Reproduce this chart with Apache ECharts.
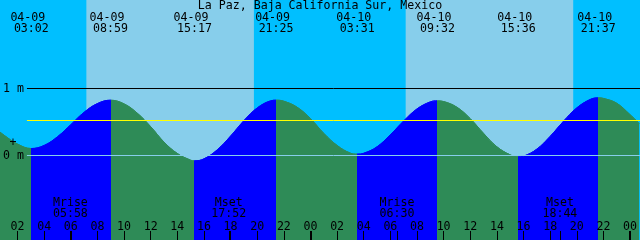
<!DOCTYPE html>
<html><head><meta charset="utf-8">
<script src="https://cdn.jsdelivr.net/npm/echarts@6/dist/echarts.min.js"></script>
<style>html,body{margin:0;padding:0;background:#00BFFF}#c{width:640px;height:240px}</style>
</head><body><div id="c"></div>
<script>
// ---------------- data ----------------
const titleText = 'La Paz, Baja California Sur, Mexico';
// hours since 04-09 00:00, tide height in metres
const tideHours = [0.68, 1, 2, 3.03, 4, 5, 6, 7, 8, 8.98,
  10, 11, 12, 13, 14, 15, 15.28, 16, 17, 18, 19, 20, 21, 21.42,
  22, 23, 24, 25, 26, 27, 27.52, 28, 29, 30, 31, 32, 33, 33.53,
  34, 35, 36, 37, 38, 39, 39.6, 40, 41, 42, 43, 44, 45, 45.62,
  46, 47, 48, 48.68];
const tideHeights = [0.35, 0.30, 0.17, 0.104, 0.15, 0.28, 0.46, 0.645, 0.775, 0.825,
  0.77, 0.63, 0.43, 0.20, 0.03, -0.07, -0.08, -0.05, 0.085, 0.29, 0.52, 0.71, 0.815, 0.825,
  0.81, 0.72, 0.55, 0.33, 0.15, 0.035, 0.02, 0.033, 0.13, 0.31, 0.515, 0.695, 0.80, 0.815,
  0.805, 0.72, 0.55, 0.33, 0.13, 0.01, -0.02, -0.01, 0.095, 0.285, 0.51, 0.71, 0.835, 0.86,
  0.852, 0.78, 0.61, 0.48];
const eventDates = ['04-09','04-09','04-09','04-09','04-10','04-10','04-10','04-10'];
const eventTimes = ['03:02','08:59','15:17','21:25','03:31','09:32','15:36','21:37'];
const eventKinds = ['low','high','low','high','low','high','low','high'];
const sunriseDays = [0, 1];
const sunriseTimes = ['07:10', '07:09'];
const sunsetTimes = ['19:45', '19:44'];
const moonDays = [0, 0, 1, 1];
const moonNames = ['Mrise', 'Mset', 'Mrise', 'Mset'];
const moonTimes = ['05:58', '17:52', '06:30', '18:44'];
const tickHours = [2,4,6,8,10,12,14,16,18,20,22,24,26,28,30,32,34,36,38,40,42,44,46,48];
const midnightHours = [24, 48];
const levelValues = [1, 0.52, 0];
const levelColors = ['#000000', '#FFFF00', '#87CEEB'];
const levelLabelValues = [0, 1];
const X0 = 0.68, X1 = 48.68;
const Y0 = -1.2612, Y1 = 2.3209;

// ---------------- helpers ----------------
const NIGHT = '#00BFFF', DAY = '#87CEEB', RISE = '#0000FF', FALL = '#2E8B57';
const FONT = '11.6px "DejaVu Sans Mono", "Liberation Mono", monospace';
const FAM = '"DejaVu Sans Mono", "Liberation Mono", monospace';
const hm = s => { const p = s.split(':'); return +p[0] + (+p[1]) / 60; };
const dayOf = d => d === '04-10' ? 1 : 0;
const eventHours = eventTimes.map((t, i) => hm(t) + 24 * dayOf(eventDates[i]));
const sunrise = sunriseTimes.map((t, i) => hm(t) + 24 * sunriseDays[i]);
const sunset = sunsetTimes.map((t, i) => hm(t) + 24 * sunriseDays[i]);
const moonHours = moonTimes.map((t, i) => hm(t) + 24 * moonDays[i]);
const pad = v => String(Math.round(v) % 24).padStart(2, '0');

const pieces = [];
pieces.push({ lt: eventHours[0], color: eventKinds[0] === 'low' ? FALL : RISE });
for (let i = 0; i < eventHours.length; i++) {
  const p = { gte: eventHours[i], color: eventKinds[i] === 'low' ? RISE : FALL };
  if (i + 1 < eventHours.length) p.lt = eventHours[i + 1];
  pieces.push(p);
}

const dayAreas = sunrise.map((s, i) => [{ xAxis: s }, { xAxis: sunset[i] }]);

const chart = echarts.init(document.getElementById('c'), null, { renderer: 'canvas', width: 640, height: 240 });
const baseX = { type: 'value', min: X0, max: X1, gridIndex: 0, position: 'bottom', z: 10,
  axisLine: { show: false, onZero: false }, splitLine: { show: false } };
const option = {
  animation: false,
  backgroundColor: NIGHT,
  grid: [
    { left: 0, right: 0, top: 0, bottom: 0 },
    { left: 25, right: 0, top: 0, bottom: 0 }
  ],
  xAxis: [
    Object.assign({}, baseX, {
      axisTick: { inside: true, length: 9, customValues: tickHours, lineStyle: { color: '#000', width: 1 } },
      axisLabel: { inside: true, customValues: tickHours, formatter: v => pad(v), margin: 7,
        color: '#000', fontFamily: FAM, fontSize: 11.6 }
    }),
    Object.assign({}, baseX, {
      axisTick: { inside: true, length: 9, customValues: midnightHours, lineStyle: { color: '#000', width: 2 } },
      axisLabel: { show: false }
    }),
    Object.assign({}, baseX, {
      axisTick: { inside: true, length: 9, customValues: moonHours, lineStyle: { color: '#000', width: 1 } },
      axisLabel: { show: false }
    }),
    { type: 'value', gridIndex: 1, min: 0, max: 1, show: false, axisLine: { onZero: false } }
  ],
  yAxis: [
    { type: 'value', gridIndex: 0, min: Y0, max: Y1, show: false, axisLine: { onZero: false } },
    { type: 'value', gridIndex: 1, min: Y0, max: Y1, z: 10,
      axisLine: { show: false, onZero: false }, axisTick: { show: false }, splitLine: { show: false },
      axisLabel: { customValues: levelLabelValues, formatter: v => v + ' m', margin: 3,
        color: '#000', fontFamily: FAM, fontSize: 11.6 } }
  ],
  visualMap: { type: 'piecewise', show: false, dimension: 0, seriesIndex: 1, pieces: pieces },
  series: [
    { type: 'line', xAxisIndex: 0, yAxisIndex: 0, data: [], silent: true, z: 0,
      markArea: { silent: true, itemStyle: { color: DAY, opacity: 1 }, data: dayAreas } },
    { type: 'line', xAxisIndex: 0, yAxisIndex: 0, z: 2, silent: true,
      data: tideHours.map((t, i) => [t, tideHeights[i]]),
      smooth: 0.4, showSymbol: false, symbol: 'none',
      lineStyle: { width: 1 }, areaStyle: { origin: 'start', opacity: 1 } },
    { type: 'line', xAxisIndex: 3, yAxisIndex: 1, data: [], silent: true,
      markLine: { silent: true, symbol: 'none', label: { show: false },
        data: levelValues.map((v, i) => ({ yAxis: v, lineStyle: { color: levelColors[i], width: 1, type: 'solid' } })) } }
  ]
};
chart.setOption(option);

const toX = t => chart.convertToPixel({ xAxisIndex: 0 }, t);
const txt = (s, x, y) => ({ type: 'text', x: x, y: y, z: 100, silent: true,
  style: { text: s, font: FONT, fill: '#000', align: 'center', verticalAlign: 'middle',
    textAlign: 'center', textVerticalAlign: 'middle' } });
const g = [txt(titleText, 320, 6), txt('+', 13, 143)];
eventHours.forEach((t, i) => {
  const x = toX(t);
  g.push(txt(eventDates[i], x - 3.5, 18));
  g.push(txt(eventTimes[i], x, 29));
});
moonHours.forEach((t, i) => {
  const x = toX(t);
  g.push(txt(moonNames[i], x, 202.5));
  g.push(txt(moonTimes[i], x, 214));
});
chart.setOption({ graphic: { elements: g } });
</script></body></html>
